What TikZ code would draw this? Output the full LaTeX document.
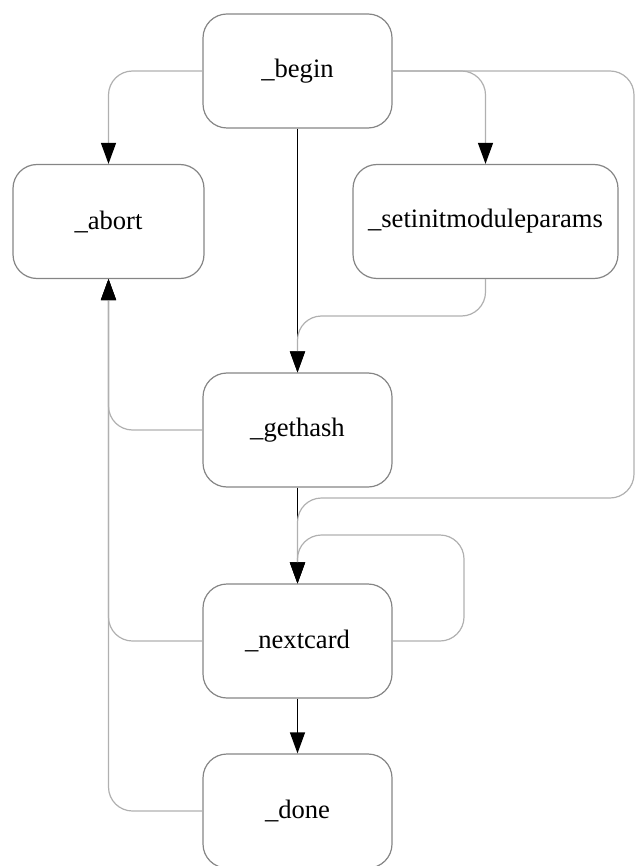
\documentclass[tikz,border=0pt]{standalone}
\usepackage{fontspec}
\setmainfont{Liberation Serif}
\usetikzlibrary{arrows.meta}
\definecolor{boxgray}{HTML}{858585}
\definecolor{linegray}{HTML}{B0B0B0}

\begin{document}
\begin{tikzpicture}[x=1pt, y=-1pt, line width=1.2pt,
    >={Triangle[length=21pt, width=15pt, color=black]},
    state/.style={draw=boxgray, rounded corners=24pt, minimum width=189pt,
        minimum height=114pt, inner sep=0pt, font=\fontsize{26.6}{30}\selectfont},
    bentedge/.style={draw=linegray, rounded corners=24pt, ->},
    flow/.style={draw=black, ->}]
    \useasboundingbox (0,0) rectangle (637,866);

    % States (nodes)
    \node[state] (begin) at (297.5,71) {\_begin};
    \node[state, minimum width=191pt] (abort) at (108.5,221.5) {\_abort};
    \node[state, minimum width=265pt] (setinit) at (485.5,221.5) {\_setinitmoduleparams};
    \node[state] (gethash) at (297.5,430) {\_gethash};
    \node[state] (nextcard) at (297.5,641) {\_nextcard};
    \node[state] (done) at (297.5,811) {\_done};

    % Bend points
    \coordinate (farright) at (634,498);
    \coordinate (setdrop) at (485.5,316);
    \coordinate (loopcorner) at (464,535);

    % Straight transitions
    \draw[flow] (begin) -- (gethash);
    \draw[flow] (gethash) -- (nextcard);
    \draw[flow] (nextcard) -- (done);

    % Bent transitions
    \draw[bentedge] (begin.west) -| (abort.north);
    \draw[bentedge] (begin.east) -| (setinit.north);
    \draw[bentedge] (begin.east) -| (farright) -| (nextcard.north);
    \draw[bentedge] (setinit.south) -- (setdrop) -| (gethash.north);
    \draw[bentedge] (gethash.west) -| (abort.south);
    \draw[bentedge] (nextcard.east) -| (loopcorner) -| (nextcard.north);
    \draw[bentedge] (nextcard.west) -| (abort.south);
    \draw[bentedge] (done.west) -| (abort.south);

\end{tikzpicture}
\end{document}
